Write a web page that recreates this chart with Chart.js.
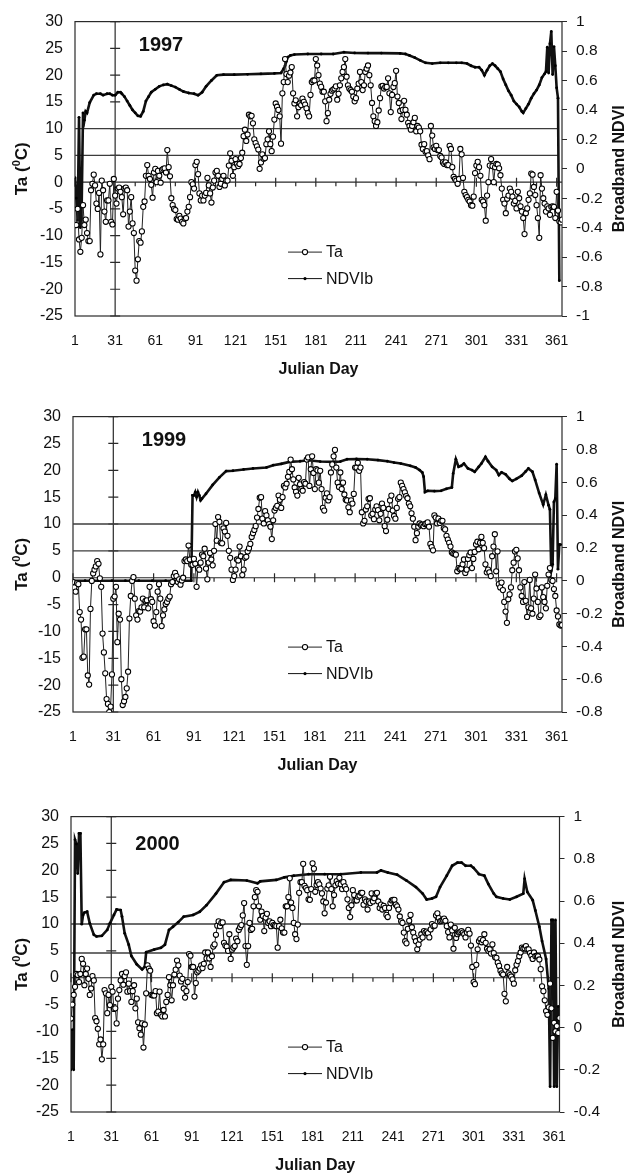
<!DOCTYPE html>
<html>
<head>
<meta charset="utf-8">
<script src="https://cdn.jsdelivr.net/npm/chart.js@4.4.1/dist/chart.umd.min.js"></script>
<style>
  html, body { margin: 0; padding: 0; background: #fff; }
  #wrap { position: relative; width: 626px; height: 1175px; overflow: hidden; }
  .panel { position: absolute; left: 0; width: 626px; }
  canvas { display: block; }
</style>
</head>
<body>
<div id="wrap">
  <div class="panel" style="top:0"><canvas id="c1997" width="626" height="395"></canvas></div>
  <div class="panel" style="top:395px"><canvas id="c1999" width="626" height="400"></canvas></div>
  <div class="panel" style="top:795px"><canvas id="c2000" width="626" height="380"></canvas></div>
</div>
<script>
// Julian day labels on the horizontal axis
const dayTicks = [1, 31, 61, 91, 121, 151, 181, 211, 241, 271, 301, 331, 361];

// Daily air temperature (deg C), day 1 .. 365
const ta1997 = [
  -8, -8, -5, -10.7, -13, -10.4, -4.3, -8, -7, -9.5,
  -11, -11, -1.5, -0.3, 1.4, -0.6, -4, -5, -2, -13.5,
  0.3, -1.5, -5.5, -7.4, -3.4, -3.4, -0.3, -7.4, -7.9, 0.6,
  -2.5, -4, -1.2, -1, -1.8, -2.8, -6, -1.2, -1, -1.5,
  -8.3, -5.5, -2.8, -7.7, -9.5, -16.5, -18.4, -14.4, -11, -11.3,
  -9.2, -4.6, -3.6, 1.2, 3.2, 1.2, 0.6, -0.5, -2.9, 1.8,
  2.5, 0, 2.1, 1.2, -0.1, 2.3, 2.5, 2.6, 1.8, 6,
  2.8, 1.1, -3, -4.3, -5, -5.2, -6.9, -7, -6.3, -6.8,
  -7.4, -7.7, -6.8, -6.7, -5.5, -4.6, -2.8, 0, -0.4, -1.2,
  3.2, 3.8, 1.5, -2.1, -3.4, -2.5, -3.4, -2.5, -2, 0.8,
  -0.6, -2.1, -3.8, -1, 0.3, 1.8, 2.1, 1.2, -0.9, -0.3,
  0.6, 1.2, -0.6, 0.3, 0.3, 3.1, 5.4, 4, 1.2, 2.8,
  4.3, 3.4, 3, 3.4, 4.5, 5.5, 8.6, 9.8, 7.7, 8.9,
  12.6, 12.3, 12.4, 11, 8, 7.3, 6.7, 6.1, 2.5, 3.7,
  5.2, 4.4, 4.5, 7.1, 8, 9.5, 7.1, 5.8, 8.5, 11.7,
  14.7, 14.1, 13.5, 12.3, 7.2, 16.6, 18.7, 23, 20.2, 18.7,
  19.9, 20.5, 21.5, 16.6, 14.7, 15.3, 12.3, 14, 14.7, 14.4,
  15.6, 15, 14.5, 13.8, 12.9, 12.3, 16.3, 18.7, 19, 19,
  23, 21.8, 20, 18.4, 17.8, 16.9, 16.9, 15.1, 11.4, 12.9,
  15.4, 16.5, 17.1, 17.3, 17.5, 17.9, 15.4, 16.5, 18.1, 19.4,
  20.6, 21.5, 23, 19.7, 18.1, 17.5, 17.2, 16.9, 16, 15.1,
  15.7, 17.5, 18.4, 20.6, 18.7, 17.2, 18.1, 20.6, 21.2, 21.8,
  20, 18.1, 14.8, 12.3, 11.4, 10.5, 11.2, 13.4, 15.7, 17.9,
  18, 17.5, 17.8, 17.8, 19.4, 16.6, 13.1, 16.3, 17.8, 18.5,
  20.8, 16, 14.8, 13.3, 11.8, 13.5, 15.2, 13.5, 12.6, 11.1,
  10.5, 9.8, 10.5, 11.2, 12, 9.5, 10.5, 10.2, 9.5, 7,
  6.2, 7.1, 5.7, 5.8, 5, 4.3, 10.5, 8.7, 6.5, 6.2,
  6.8, 6, 6, 4.9, 4.6, 3.7, 3.4, 3.7, 3.2, 3.2,
  6.8, 6.2, 2.8, 1, 0.6, 0.3, -0.3, 0.6, 6.2, 5.2,
  0.8, -1.8, -2.4, -2.8, -3.3, -3.6, -4.3, -4.4, -2.7, 1.7,
  3.1, 3.8, 2.8, 1.2, -3.3, -3.6, -4.3, -7.2, -2.5, 0,
  3.1, 4.3, 3, 0, 2.8, 3.4, 3.3, 2.6, 1.3, -1.2,
  -3.3, -4, -5.8, -3.1, -2.5, -1.2, -1.8, -2.7, -4, -3.5,
  -4.9, -1.8, -3, -4.5, -5.5, -6.7, -9.7, -5.8, -4.9, -3.3,
  -2.1, 1.6, 1.4, -0.9, -2.4, -4.3, -6.7, -10.4, 1.3, -1.2,
  -3, -4, -5.5, -4.5, -4.9, -6.1, -4.6, -4.5, -4.6, -6.7,
  -1.8, -5.3, -7.3, -7.5, -7
];

const ta1999 = [
  -0.8, -1.8, -2.6, -1, -1.2, -6.4, -7.8, -14.9, -14.7, -9.6,
  -9.6, -18.2, -19.9, -5.8, -0.6, 0.8, 1.5, 2.1, 3.1, 2.6,
  -0.1, -1.7, -10.4, -13.9, -17.8, -22.6, -23.5, -25, -24, -18,
  -3.9, -3.5, -1.7, -12, -6.7, -7.8, -18.9, -23.7, -23, -22.2,
  -20.6, -17.5, -7.6, -3.4, -0.6, 0.1, -3.9, -7, -7.8, -6.2,
  -6.3, -5.5, -3.9, -5.5, -4.3, -4.2, -5.7, -1.7, -4, -4.5,
  -8.1, -8.9, -6.4, -2.6, -1.2, -3.9, -9, -7, -5.9, -4.9,
  -4.5, -3.9, -3.5, -1.2, -0.8, 0.3, 0.9, 0.3, -0.8, -0.3,
  -1.3, -0.5, 0, 3.1, 3.4, 3.1, 6, 3.4, 2.4, 2.4,
  3.5, 2.6, -1.7, 1.8, 1.5, 2.8, 4.3, 4, 5.4, 1.7,
  -0.3, 2.8, 4.6, 3.4, 2.3, 5, 10, 6.9, 11.3, 10.4,
  6.5, 6.4, 9.2, 8.6, 10.2, 7.8, 5, 3.7, 1.5, -0.4,
  0.3, 1.5, 3.4, 3.2, 5.8, 4, 0.5, 1.5, 3.7, 3.9,
  4.9, 5.5, 6.3, 7.6, 8.3, 8.9, 9.6, 11.2, 12.8, 14.9,
  15, 11, 10.1, 12.4, 11.6, 10.7, 10, 9.5, 7.2, 10.7,
  12.5, 13, 13.4, 15.3, 14.5, 13, 15, 17.1, 16.8, 17.5,
  18.8, 19.7, 22, 20.2, 18.3, 16.8, 16, 15.3, 18.6, 17.4,
  16.5, 16.2, 17.8, 17.5, 22, 22.4, 17.1, 20.2, 22.6, 19.5,
  16.5, 20.2, 20, 17.7, 19.9, 16.5, 13, 12.5, 14.9, 15.7,
  14.4, 15, 19.6, 21.1, 22.6, 23.8, 20.5, 17.7, 16.9, 19.6,
  16.5, 17.7, 15.5, 14.5, 14.4, 13.1, 12.2, 14.4, 13.8, 15.6,
  20.5, 20.5, 21.4, 19.9, 20.5, 12.2, 10.1, 10.6, 12.7, 13.3,
  14.7, 14.8, 11.6, 11.9, 10.9, 12.7, 13.3, 12.6, 10.7, 11.9,
  13.8, 13, 9.6, 8.7, 10.8, 12.8, 14.4, 15.3, 12.5, 11.5,
  11, 13, 14.7, 15, 17.7, 17.1, 16.5, 15.9, 15.2, 14.8,
  13.8, 13.3, 12, 11, 9.5, 7, 8.3, 9.5, 10.1, 9.8,
  9.9, 9.6, 10, 10.1, 10.3, 9.5, 6.3, 5.7, 5.1, 11.6,
  11.2, 10.1, 11, 10.2, 10.6, 10.6, 9.2, 9, 7.8, 7.1,
  6.5, 5.8, 4.7, 4.5, 4.4, 4.3, 1.2, 1.8, 1.6, 1.7,
  2.5, 3.4, 0.9, 1.5, 3.5, 4.2, 4.7, 1.8, 3.5, 4.8,
  6.2, 6.7, 5.3, 6.5, 7.6, 6.5, 5.5, 2.5, 1, 1.5,
  1, 0.3, 4, 5.8, 8.1, 1.2, 4.9, -1.2, -1.8, -0.9,
  -2.3, -4.5, -6.3, -8.4, -4, -3.1, -1.8, 1.4, 2.8, 4.9,
  5.2, 3.6, 1.4, -1.8, -3.4, -4.5, -0.8, -4.3, -7.3, -5.5,
  -0.4, -5.7, -6.7, -3.9, 0.6, -2, -4.5, -7.3, -7, -1.8,
  -3.6, -4.5, -5.7, -1.5, 0.6, 1.8, -0.4, -0.6, -2.1, -3.4,
  -6.1, -7.2, -8.7, -8.9, -8.8
];

const ta2000 = [
  -7.6, -5, -3.2, -1.7, 0.7, 0.5, -0.8, 0.7, 3.5, 2.6,
  -1.4, 0.7, 1.7, -0.2, -3.2, -2, 0.3, -0.5, -7.5, -8.1,
  -9.5, -12.4, -11.5, -15.2, -12.4, -2.3, -2.9, -6.6, -3.2, -5.1,
  -1.7, -2.6, -5.8, -5.7, -8.5, -3.9, -2.3, -0.5, 0.7, -1.3,
  0.3, 1, -2.6, -1.1, -2.5, -4.5, -2.5, -1.4, -5.7, -3.9,
  -8.3, -9.4, -10.6, -8.5, -13, -8.7, -2.9, 2.3, 1.7, 1.3,
  -3.2, -3.3, -3.3, -2.5, -6.6, -6.3, -2.6, -6.9, -7.2, -6,
  -7.2, -4.5, -3.2, 0.1, -1.4, -4.2, -1.4, 0.6, 1.5, 3.2,
  2.3, 0.4, -0.7, -0.2, -2, -3.7, -2.5, -0.8, 4.4, 4.1,
  2, 2, -3.5, -1, 1, 1.3, 1.7, 2.3, 1.8, 2.6,
  4.7, 3.6, 4.7, 3.6, 2, 4, 5.8, 6.2, 8, 9.7,
  10.5, 9.6, 10.2, 10.3, 6.5, 6, 5.8, 5, 8.1, 3.5,
  5.2, 5.6, 5.9, 7.3, 6.8, 8.9, 9.4, 9.8, 11.6, 13.9,
  5.9, 2.4, 5.9, 10.2, 8.9, 9.1, 13.3, 15, 16.3, 16,
  13.3, 10.8, 12.3, 11.5, 8.7, 11.2, 11.9, 10.2, 10.5, 9.6,
  10.2, 9.8, 9.7, 9.6, 5.6, 9.6, 10.8, 9.2, 8.4, 8.4,
  13.3, 13.3, 15, 18.5, 14, 13, 10.2, 8.1, 7.2, 9.9,
  15.8, 17.8, 17.8, 21.2, 17.1, 16.7, 16.3, 14.6, 14.5, 16.5,
  21.3, 20.3, 16, 17.3, 17.8, 17.4, 16.6, 15.7, 14.2, 12,
  14, 16.6, 17.2, 18.8, 16.5, 13.3, 15.4, 17.2, 18, 17.5,
  18.6, 17.4, 16.5, 17.8, 17, 16.5, 14.6, 13, 11.3, 13.5,
  16.3, 15.4, 14.4, 14.4, 15.1, 15.3, 15.8, 15.8, 13.6, 14.6,
  14.2, 12.7, 14.2, 13.9, 15.7, 14.2, 14.8, 15.7, 15.8, 14.2,
  13, 13.6, 12.7, 13.4, 13, 11.7, 11.3, 13, 13.9, 14.4,
  14.5, 14.5, 13.6, 13.3, 12.7, 11.4, 10.5, 10.2, 8.4, 6.8,
  6.4, 9.1, 10.6, 11.7, 9.4, 8.4, 7.5, 6.8, 5.3, 6.2,
  7.1, 8.1, 7.5, 8.7, 8.4, 8.6, 8.3, 7.5, 9, 10,
  9.6, 9.7, 11.6, 12, 11.1, 10.5, 10.6, 10.8, 11, 10.6,
  9.6, 8.5, 7.5, 9.9, 8.8, 5.4, 9.3, 7.4, 8.1, 8.4,
  8.5, 8.7, 8.4, 8.1, 7.5, 8.4, 8.9, 8.2, 6, 2,
  -0.8, -1.2, 2.4, 5.3, 6.8, 7.2, 6.6, 7, 8.1, 6.5,
  5.4, 5, 5.3, 4.5, 6.2, 4.6, 3.8, 3.7, 2.8, 2.2,
  1.3, 0.8, 0.6, -3, -4.4, 2, 0.8, 0.5, 0.2, -0.3,
  -1.1, 1.4, 2.4, 3.1, 4, 4.7, 5.6, 5.4, 5.5, 5.9,
  5.3, 5.3, 4.6, 4.1, 3.5, 4.7, 4, 4.1, 4, 3.4,
  1.6, -1.6, -2.5, -4.2, -6.2, -6.9, -5.5, -1.1, -5.7, -11.2,
  -8.4, -10, -9, -10.3, -7.5
];

// Broadband NDVI as [julian day, value]
const ndvi1997 = [
  [1,-0.06],[2,-0.2],[3,-0.35],[4,0.35],[5,-0.4],[6,-0.25],[7,0.38],[8,0.33],[9,0.39],[10,0.38],
  [12,0.45],[15,0.5],[17,0.51],[20,0.51],[22,0.5],[25,0.51],[27,0.51],[29,0.5],[31,0.5],[33,0.52],
  [35,0.52],[36,0.51],[38,0.49],[40,0.46],[42,0.43],[44,0.4],[46,0.38],[48,0.36],[50,0.357],[52,0.39],
  [54,0.46],[56,0.49],[58,0.52],[61,0.54],[64,0.56],[67,0.57],[70,0.575],[73,0.565],[76,0.555],[79,0.54],
  [82,0.525],[86,0.515],[90,0.51],[93,0.5],[96,0.52],[99,0.56],[103,0.6],[107,0.635],[112,0.64],[120,0.64],
  [130,0.642],[140,0.645],[150,0.648],[155,0.651],[157,0.68],[158,0.7],[159,0.73],[160,0.758],[162,0.77],[165,0.776],
  [175,0.78],[185,0.78],[194,0.78],[202,0.792],[210,0.787],[220,0.786],[230,0.786],[244,0.784],[248,0.78],[251,0.77],
  [255,0.755],[259,0.737],[263,0.72],[268,0.715],[274,0.72],[280,0.72],[286,0.72],[290,0.72],[294,0.715],[297,0.7],
  [300,0.69],[303,0.69],[305,0.67],[307,0.636],[309,0.67],[311,0.7],[313,0.714],[315,0.7],[317,0.68],[319,0.66],
  [321,0.61],[323,0.57],[325,0.53],[327,0.5],[329,0.46],[331,0.44],[333,0.42],[335,0.39],[336,0.38],[338,0.41],
  [340,0.44],[342,0.48],[344,0.51],[346,0.535],[348,0.57],[350,0.62],[352,0.645],[353,0.66],[354,0.826],[355,0.65],
  [356,0.85],[357,0.933],[358,0.64],[359,0.83],[360,0.7],[361,0.55],[362,0.48],[363,-0.76]
];

const ndvi1999 = [
  [1,0],[10,0],[20,0],[30,0],[40,0],[50,0],[60,0],[70,0],[80,0],[89,0],
  [90,0.52],[91,0.52],[92,0.54],[93,0.51],[94,0.54],[95,0.52],[96,0.49],[97,0.5],[100,0.53],[105,0.584],
  [110,0.63],[115,0.668],[120,0.67],[128,0.678],[135,0.684],[145,0.69],[150,0.704],[156,0.712],[162,0.724],[170,0.728],
  [176,0.734],[185,0.726],[195,0.724],[200,0.726],[205,0.74],[212,0.742],[220,0.74],[228,0.735],[235,0.728],[240,0.72],
  [245,0.714],[252,0.7],[256,0.69],[259,0.674],[261,0.66],[262,0.634],[263,0.54],[265,0.548],[270,0.546],[275,0.548],
  [279,0.56],[283,0.568],[284,0.654],[286,0.74],[288,0.694],[290,0.7],[292,0.714],[295,0.684],[298,0.674],[300,0.664],
  [303,0.694],[305,0.714],[308,0.754],[310,0.728],[313,0.694],[316,0.674],[318,0.644],[320,0.66],[323,0.648],[326,0.62],
  [328,0.608],[331,0.62],[335,0.64],[338,0.666],[340,0.684],[343,0.664],[345,0.614],[348,0.534],[351,0.464],[353,0.524],
  [355,0.46],[356,0.434],[357,0.06],[358,0.1],[359,0.48],[360,0.5],[361,0.71],[362,0.07],[363,0.22],[364,0.22]
];

const ndvi2000 = [
  [1,-0.2],[2,-0.01],[3,-0.2],[4,0.89],[5,0.87],[6,0.73],[7,0.92],[8,0.92],[9,0.49],[10,0.534],
  [11,0.545],[13,0.549],[15,0.494],[18,0.44],[20,0.432],[24,0.435],[28,0.463],[30,0.494],[33,0.534],[35,0.56],
  [38,0.557],[39,0.526],[41,0.447],[44,0.393],[46,0.339],[50,0.3],[54,0.276],[56,0.289],[57,0.357],[63,0.37],
  [68,0.378],[71,0.393],[74,0.463],[77,0.478],[81,0.5],[85,0.526],[92,0.534],[97,0.549],[102,0.58],[109,0.635],
  [115,0.689],[120,0.7],[132,0.697],[140,0.684],[142,0.693],[154,0.7],[160,0.712],[167,0.72],[178,0.727],[190,0.727],
  [202,0.727],[217,0.735],[229,0.735],[232,0.745],[237,0.735],[244,0.725],[251,0.697],[258,0.666],[263,0.635],[266,0.607],
  [270,0.612],[273,0.62],[276,0.666],[281,0.72],[285,0.767],[289,0.782],[292,0.782],[295,0.767],[299,0.767],[301,0.757],
  [305,0.727],[309,0.72],[312,0.68],[316,0.635],[318,0.62],[323,0.612],[328,0.607],[333,0.62],[338,0.635],[339,0.705],
  [341,0.643],[345,0.604],[347,0.555],[350,0.478],[352,0.41],[355,0.325],[357,0.185],[358,-0.28],[359,0.51],[360,0.51],
  [361,-0.28],[362,0.51],[363,-0.28],[364,0.1]
];

// Reference temperature levels drawn across each year
const levels1997 = [10, 5];
const levels1999 = [10, 5];
const levels2000 = [10, 4.6];
const levelSpan = [1, 362];

const FONT = "'Liberation Sans', Arial, Helvetica, sans-serif";
const INK = '#111';
Chart.defaults.font.family = FONT;
Chart.defaults.color = INK;

// Frame, zero line, day-31 crossing line, legend, year and axis titles
const decor = {
  id: 'decor',
  beforeDatasetsDraw(chart) {
    const { ctx, chartArea: a, scales: { x, y } } = chart;
    ctx.save();
    ctx.strokeStyle = '#2a2a2a';
    ctx.lineWidth = 1.2;
    ctx.strokeRect(a.left, a.top, a.right - a.left, a.bottom - a.top);
    ctx.beginPath();
    const y0 = y.getPixelForValue(0);
    ctx.moveTo(a.left, y0); ctx.lineTo(a.right, y0);
    for (let d = 1; d <= 361; d += 15) {
      const px = x.getPixelForValue(d);
      if ((d - 1) % 30 === 0) { ctx.moveTo(px, y0 - 4.5); ctx.lineTo(px, y0 + 4.5); }
      else { ctx.moveTo(px, y0); ctx.lineTo(px, y0 + 4); }
    }
    const xc = x.getPixelForValue(31);
    ctx.moveTo(xc, a.top); ctx.lineTo(xc, a.bottom);
    y.ticks.forEach(t => {
      const py = y.getPixelForValue(t.value);
      ctx.moveTo(xc - 5, py); ctx.lineTo(xc + 5, py);
    });
    ctx.stroke();
    ctx.restore();
  },
  afterDraw(chart, args, o) {
    const { ctx, chartArea: a } = chart;
    const ta = chart.data.datasets[0];
    const nd = chart.data.datasets[1];
    ctx.save();
    ctx.fillStyle = INK;

    // year
    ctx.font = 'bold 20px ' + FONT;
    ctx.textAlign = 'center';
    ctx.textBaseline = 'middle';
    ctx.fillText(o.year, o.yearX, a.top + o.yearDy);

    // legend
    const lx0 = 288, lx1 = 322, mx = 305;
    const yT = a.top + 230.5, yN = a.top + 257;
    ctx.strokeStyle = ta.borderColor;
    ctx.lineWidth = ta.borderWidth;
    ctx.beginPath(); ctx.moveTo(lx0, yT); ctx.lineTo(lx1, yT); ctx.stroke();
    ctx.beginPath(); ctx.arc(mx, yT, ta.pointRadius, 0, Math.PI * 2);
    ctx.fillStyle = ta.pointBackgroundColor; ctx.fill();
    ctx.strokeStyle = ta.pointBorderColor; ctx.lineWidth = ta.pointBorderWidth; ctx.stroke();
    ctx.strokeStyle = nd.borderColor;
    ctx.lineWidth = 1;
    ctx.beginPath(); ctx.moveTo(lx0, yN); ctx.lineTo(lx1, yN); ctx.stroke();
    ctx.beginPath(); ctx.arc(mx, yN, 1.6, 0, Math.PI * 2);
    ctx.fillStyle = nd.pointBackgroundColor; ctx.fill();
    ctx.fillStyle = INK;
    ctx.font = '16px ' + FONT;
    ctx.textAlign = 'left';
    ctx.fillText(ta.label, 326, yT + 0.5);
    ctx.fillText(nd.label, 326, yN + 0.5);

    // left axis title with superscript
    const cy = (a.top + a.bottom) / 2;
    ctx.save();
    ctx.translate(22, cy);
    ctx.rotate(-Math.PI / 2);
    const big = 'bold 17px ' + FONT, small = 'bold 11px ' + FONT;
    ctx.font = big;
    const w1 = ctx.measureText('Ta (').width, w3 = ctx.measureText('C)').width;
    ctx.font = small;
    const w2 = ctx.measureText('0').width;
    let sx = -(w1 + w2 + w3) / 2;
    ctx.textAlign = 'left';
    ctx.font = big; ctx.fillText('Ta (', sx, 0); sx += w1;
    ctx.font = small; ctx.fillText('0', sx, -5); sx += w2;
    ctx.font = big; ctx.fillText('C)', sx, 0);
    ctx.restore();

    // right axis title
    ctx.save();
    ctx.translate(620, cy);
    ctx.rotate(-Math.PI / 2);
    ctx.font = 'bold 16px ' + FONT;
    ctx.textAlign = 'center';
    ctx.fillText('Broadband NDVI', 0, 0);
    ctx.restore();

    ctx.restore();
  }
};

function makePanel(id, taVals, ndviPairs, levels, L) {
  const taData = taVals.map((v, i) => ({ x: i + 1, y: v }));
  const ndData = ndviPairs.map(p => ({ x: p[0], y: p[1] }));
  const levelSets = levels.map(v => ({
    label: 'level ' + v,
    data: levelSpan.map(d => ({ x: d, y: v })),
    yAxisID: 'y',
    borderColor: '#3c3c3c',
    borderWidth: 1.3,
    pointRadius: 0,
    fill: false
  }));
  new Chart(document.getElementById(id), {
    type: 'line',
    data: {
      datasets: [
        {
          label: 'Ta',
          data: taData,
          yAxisID: 'y',
          borderColor: '#222222',
          borderWidth: 1,
          pointRadius: 2.6,
          pointBorderWidth: 1.05,
          pointBorderColor: '#000000',
          pointBackgroundColor: '#ffffff',
          tension: 0,
          fill: false
        },
        {
          label: 'NDVIb',
          data: ndData,
          yAxisID: 'y2',
          borderColor: '#111111',
          borderWidth: 2.6,
          pointRadius: 1.4,
          pointBorderWidth: 0,
          pointBackgroundColor: '#000000',
          tension: 0,
          fill: false
        },
        ...levelSets
      ]
    },
    options: {
      responsive: false,
      animation: false,
      events: [],
      layout: { padding: { top: L.top, left: 0, right: 0, bottom: 0 } },
      plugins: {
        legend: { display: false },
        tooltip: { enabled: false },
        decor: { year: L.year, yearX: L.yearX, yearDy: L.yearDy }
      },
      scales: {
        x: {
          type: 'linear',
          min: 1,
          max: 365,
          afterBuildTicks: s => { s.ticks = dayTicks.map(v => ({ value: v })); },
          afterFit: s => { s.height = L.H - L.bottom; },
          grid: { display: false, drawTicks: false },
          border: { display: false },
          ticks: { padding: 16.6, color: INK, font: { size: 14 }, maxRotation: 0, autoSkip: false },
          title: {
            display: true,
            text: 'Julian Day',
            color: INK,
            font: { size: 16, weight: 'bold' },
            padding: { top: 0, bottom: L.titlePad }
          }
        },
        y: {
          position: 'left',
          min: -25,
          max: 30,
          afterFit: s => { s.width = L.left; },
          grid: { display: false, drawTicks: false },
          border: { display: false },
          ticks: { stepSize: 5, padding: 12, color: INK, font: { size: 16 } }
        },
        y2: {
          position: 'right',
          min: L.ndviMin,
          max: 1,
          afterFit: s => { s.width = 626 - L.right; },
          grid: { display: true, drawOnChartArea: false, drawTicks: true, tickLength: 5, color: '#2a2a2a', lineWidth: 1 },
          border: { display: false },
          ticks: {
            stepSize: 0.2,
            padding: 9,
            color: INK,
            font: { size: 15.5 },
            callback: v => String(Math.round(v * 10) / 10)
          }
        }
      }
    },
    plugins: [decor]
  });
}

makePanel('c1997', ta1997, ndvi1997, levels1997,
  { H: 395, top: 17, bottom: 316, left: 75, right: 562, ndviMin: -1, titlePad: 15.4, year: '1997', yearX: 161, yearDy: 23.5 });
makePanel('c1999', ta1999, ndvi1999, levels1999,
  { H: 400, top: 17, bottom: 317, left: 73, right: 562, ndviMin: -0.8, titlePad: 19.4, year: '1999', yearX: 164, yearDy: 24.3 });
makePanel('c2000', ta2000, ndvi2000, levels2000,
  { H: 380, top: 17, bottom: 317, left: 71, right: 559.5, ndviMin: -0.4, titlePad: 0, year: '2000', yearX: 157.5, yearDy: 28.3 });
</script>
</body>
</html>
